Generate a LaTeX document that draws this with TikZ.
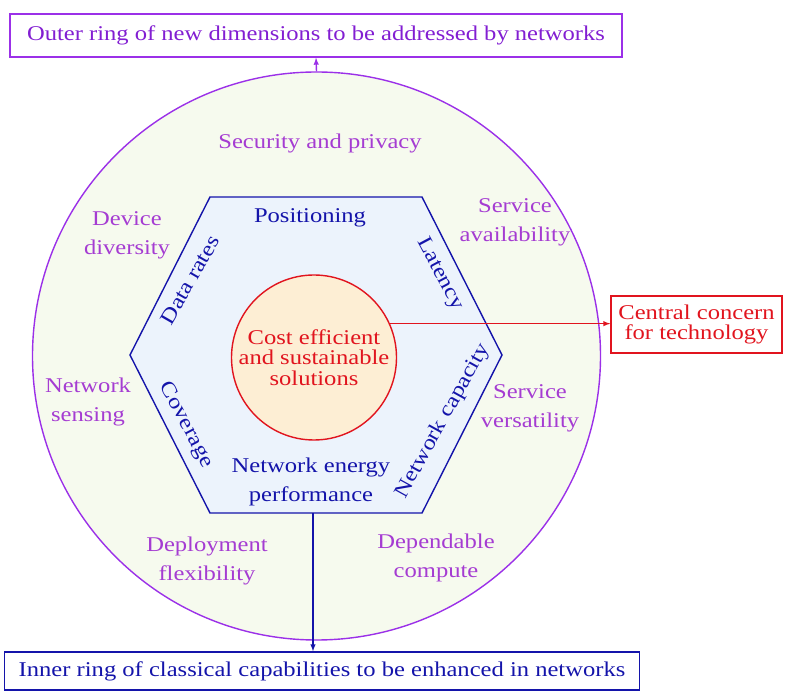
\documentclass[tikz,border=0pt]{standalone}
\usepackage{fontspec}
\setmainfont{Liberation Serif}[FakeStretch=1.17]
\usetikzlibrary{shapes, backgrounds}

\definecolor{violetline}{RGB}{155,48,232}
\definecolor{violettext}{RGB}{165,60,210}
\definecolor{boxviolet}{RGB}{130,30,210}
\definecolor{navyblue}{RGB}{20,20,170}
\definecolor{alertred}{RGB}{225,20,30}
\definecolor{peachfill}{RGB}{253,238,212}
\definecolor{hexfill}{RGB}{236,243,252}
\definecolor{ringfill}{RGB}{246,250,238}

\begin{document}
\begin{tikzpicture}[>=latex, line width=1.4pt, x=1pt, y=1pt,
  font=\fontsize{21}{29}\selectfont,
  outerlbl/.style={text=violettext, align=center},
  innerlbl/.style={text=navyblue, align=center},
  titlebox/.style={draw, inner sep=0pt, align=center}]

\useasboundingbox (0, 0) rectangle (785, 691);

\node (ring) at (316.5, 335) [draw=violetline, fill=ringfill, circle, minimum size=568pt, inner sep=0pt] {};

\coordinate (h1) at (130, 336);
\coordinate (h2) at (210, 494);
\coordinate (h3) at (422, 494);
\coordinate (h4) at (502, 336);
\coordinate (h5) at (422, 178);
\coordinate (h6) at (210, 178);
\coordinate (hexbot) at (313, 178);
\draw[navyblue, fill=hexfill] (h1) -- (h2) -- (h3) -- (h4) -- (h5) -- (h6) -- cycle;

\node (core) at (314, 333.5) [draw=alertred, fill=peachfill, circle, minimum size=165pt, inner sep=0pt, text=alertred, align=center, font=\fontsize{21}{20.5}\selectfont] {Cost efficient\\and sustainable\\solutions};

\node (topbox) at (316, 655.5) [titlebox, draw=violetline, text=boxviolet, minimum width=612pt, minimum height=43pt] {Outer ring of new dimensions to be addressed by networks};
\node (corebox) at (696.5, 366.5) [titlebox, draw=alertred, text=alertred, minimum width=171pt, minimum height=57pt, font=\fontsize{21}{20.5}\selectfont] {Central concern\\for technology};
\node (innerbox) at (322, 20) [titlebox, draw=navyblue, text=navyblue, minimum width=635pt, minimum height=38pt] {Inner ring of classical capabilities to be enhanced in networks};

\node (security) at (320, 548) [outerlbl] {Security and privacy};
\node (device) at (127, 456) [outerlbl] {Device\\diversity};
\node (availability) at (515, 469) [outerlbl] {Service\\availability};
\node (sensing) at (88, 289) [outerlbl] {Network\\sensing};
\node (versatility) at (530, 283) [outerlbl] {Service\\versatility};
\node (deployment) at (207, 130) [outerlbl] {Deployment\\flexibility};
\node (compute) at (436, 133) [outerlbl] {Dependable\\compute};

\node (positioning) at (310, 473) [innerlbl] {Positioning};
\node (datarates) at (190, 411) [innerlbl, rotate=60] {Data rates};
\node (latency) at (440, 417) [innerlbl, rotate=-62] {Latency};
\node (coverage) at (186, 266) [innerlbl, rotate=-62] {Coverage};
\node (capacity) at (443, 270) [innerlbl, rotate=61] {Network capacity};
\node (energy) at (311, 209) [innerlbl] {Network energy\\performance};

\path[->, violetline] (ring.north) edge (topbox.south);
\path[->, alertred] (core.24) edge (core.24 -| corebox.west);
\path[->, navyblue] (hexbot) edge (hexbot |- innerbox.north);

\end{tikzpicture}
\end{document}
